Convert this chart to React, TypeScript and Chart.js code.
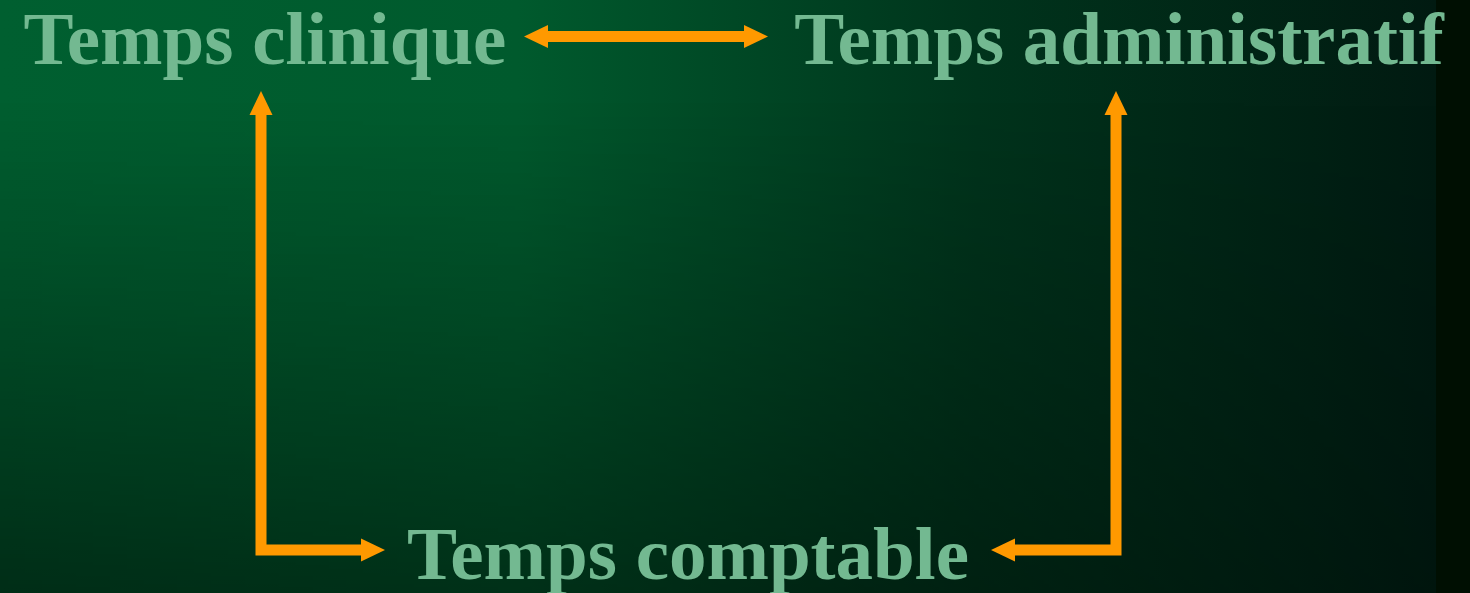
import React, { useEffect, useRef } from "react";
import { Chart, registerables } from "chart.js";

Chart.register(...registerables);

const W = 1470;
const H = 593;

// Diagram nodes (label centre x, baseline y in the chart's coordinate space)
const nodeLabels = ["Temps clinique", "Temps administratif", "Temps comptable"];
const nodeX = [265, 1119, 688];
const nodeY = [63.5, 63.5, 578.5];

// Arrow shafts (points in chart coordinates); heads are drawn at the flagged ends
const topArrowX = [547, 745];
const topArrowY = [36.5, 36.5];
const leftArrowX = [261, 261, 362];
const leftArrowY = [114, 550, 550];
const rightArrowX = [1116, 1116, 1014];
const rightArrowY = [114, 550, 550];

const ORANGE = "#ff9900";
const TEXT = "rgb(115,185,145)";

const toPoints = (xs: number[], ys: number[]) => xs.map((x, i) => ({ x, y: ys[i] }));

const backgroundPlugin = {
  id: "bgGradient",
  beforeDraw(chart: any) {
    const { ctx, width, height } = chart;
    ctx.save();
    const band = width * (1436 / W);
    const g = ctx.createLinearGradient(0, 0, band, 0);
    g.addColorStop(0, "#005f30");
    g.addColorStop(0.36, "#005a2d");
    g.addColorStop(0.68, "#00341c");
    g.addColorStop(1, "#011a11");
    ctx.fillStyle = g;
    ctx.fillRect(0, 0, band, height);
    ctx.fillStyle = "#000f02";
    ctx.fillRect(band, 0, width - band, height);
    // vertical darkening, stronger on the left, fading out to the right
    const v = ctx.createLinearGradient(0, 0, 0, height);
    v.addColorStop(0, "rgba(0,0,0,0)");
    v.addColorStop(0.17, "rgba(0,0,0,0)");
    v.addColorStop(1, "rgba(0,0,0,0.52)");
    const off = document.createElement("canvas");
    off.width = Math.ceil(band);
    off.height = height;
    const o = off.getContext("2d") as CanvasRenderingContext2D;
    o.fillStyle = v;
    o.fillRect(0, 0, band, height);
    o.globalCompositeOperation = "destination-in";
    const hm = o.createLinearGradient(0, 0, band, 0);
    hm.addColorStop(0, "rgba(0,0,0,1)");
    hm.addColorStop(0.6, "rgba(0,0,0,0.8)");
    hm.addColorStop(1, "rgba(0,0,0,0.35)");
    o.fillStyle = hm;
    o.fillRect(0, 0, band, height);
    ctx.drawImage(off, 0, 0);
    ctx.restore();
  },
};

const arrowHeadPlugin = {
  id: "arrowHeads",
  afterDatasetsDraw(chart: any) {
    const ctx = chart.ctx;
    chart.data.datasets.forEach((ds: any, i: number) => {
      if (!ds.heads) return;
      const pts = chart.getDatasetMeta(i).data;
      const drawHead = (end: any, prev: any) => {
        let dx = end.x - prev.x;
        let dy = end.y - prev.y;
        const len = Math.hypot(dx, dy) || 1;
        dx /= len;
        dy /= len;
        const L = 23;
        const half = 11.5;
        const bx = end.x - dx * 1;
        const by = end.y - dy * 1;
        ctx.beginPath();
        ctx.moveTo(end.x + dx * L, end.y + dy * L);
        ctx.lineTo(bx - dy * half, by + dx * half);
        ctx.lineTo(bx + dy * half, by - dx * half);
        ctx.closePath();
        ctx.fillStyle = ds.borderColor;
        ctx.fill();
      };
      ctx.save();
      if (ds.heads.includes("start")) drawHead(pts[0], pts[1]);
      if (ds.heads.includes("end")) drawHead(pts[pts.length - 1], pts[pts.length - 2]);
      ctx.restore();
    });
  },
};

const labelPlugin = {
  id: "nodeLabels",
  afterDatasetsDraw(chart: any) {
    const ctx = chart.ctx;
    chart.data.datasets.forEach((ds: any, i: number) => {
      if (!ds.nodeText) return;
      const pts = chart.getDatasetMeta(i).data;
      ctx.save();
      ctx.font = 'bold 75px "Liberation Serif", "Times New Roman", serif';
      ctx.fillStyle = TEXT;
      ctx.textAlign = "center";
      ctx.textBaseline = "alphabetic";
      pts.forEach((p: any, k: number) => {
        ctx.fillText(ds.nodeText[k], p.x, p.y);
      });
      ctx.restore();
    });
  },
};

export default function App() {
  const ref = useRef<HTMLCanvasElement | null>(null);

  useEffect(() => {
    document.body.style.margin = "0";
    document.body.style.background = "#000f02";
    const canvas = ref.current;
    if (!canvas) return;
    const shaft = (xs: number[], ys: number[], heads: string[]) => ({
      type: "line",
      data: toPoints(xs, ys),
      borderColor: ORANGE,
      borderWidth: 11,
      borderCapStyle: "butt",
      borderJoinStyle: "miter",
      pointRadius: 0,
      pointHoverRadius: 0,
      fill: false,
      tension: 0,
      clip: false,
      heads,
    });
    const chart = new Chart(canvas, {
      type: "line",
      data: {
        datasets: [
          shaft(topArrowX, topArrowY, ["start", "end"]),
          shaft(leftArrowX, leftArrowY, ["start", "end"]),
          shaft(rightArrowX, rightArrowY, ["start", "end"]),
          {
            type: "scatter",
            data: toPoints(nodeX, nodeY),
            pointRadius: 0,
            pointHoverRadius: 0,
            showLine: false,
            clip: false,
            nodeText: nodeLabels,
          } as any,
        ] as any,
      },
      options: {
        animation: false,
        responsive: false,
        maintainAspectRatio: false,
        events: [],
        layout: { padding: 0 },
        plugins: {
          legend: { display: false },
          tooltip: { enabled: false },
          title: { display: false },
        },
        scales: {
          x: { type: "linear", min: 0, max: W, display: false },
          y: { type: "linear", min: 0, max: H, reverse: true, display: false },
        },
      },
      plugins: [backgroundPlugin, arrowHeadPlugin, labelPlugin],
    } as any);
    return () => chart.destroy();
  }, []);

  return (
    <div style={{ position: "fixed", left: 0, top: 0, width: W, height: H, overflow: "hidden" }}>
      <canvas ref={ref} width={W} height={H} style={{ width: W, height: H, display: "block" }} />
    </div>
  );
}
